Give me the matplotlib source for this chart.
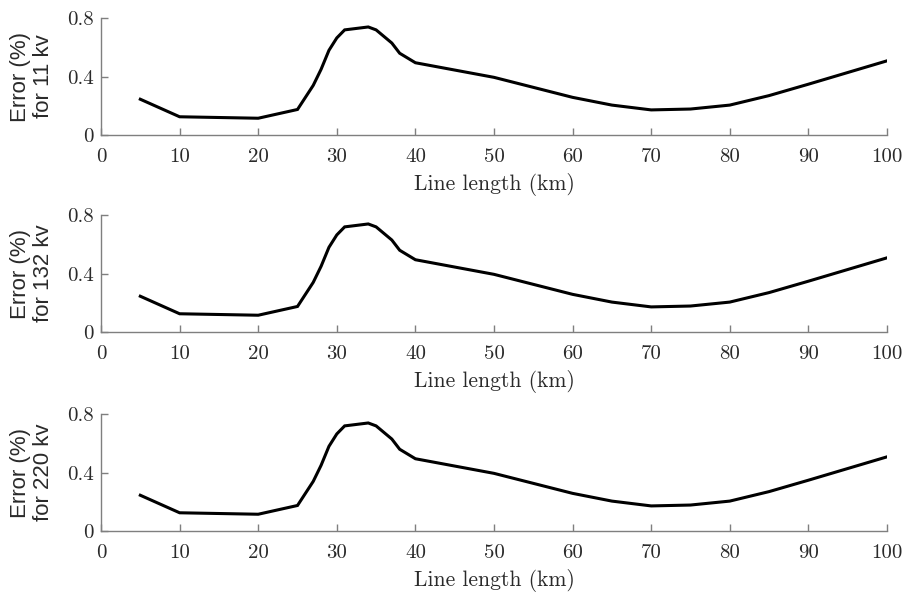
import numpy as np
import matplotlib
matplotlib.use('Agg')
import matplotlib.pyplot as plt

# Line length (km) and error values
length_km = [5, 10, 20, 25, 27, 28, 29, 30, 31, 34, 35, 37, 38, 40, 50, 60, 65, 70, 75, 80, 85, 90, 100]
error_pct = [0.245, 0.125, 0.115, 0.175, 0.34, 0.45, 0.58, 0.665, 0.72, 0.74, 0.72, 0.63, 0.56, 0.495,
             0.395, 0.258, 0.205, 0.172, 0.178, 0.205, 0.27, 0.348, 0.508]

voltages = ['11', '132', '220']
x_ticks = [0, 10, 20, 30, 40, 50, 60, 70, 80, 90, 100]
y_ticks = [0, 0.4, 0.8]
y_tick_labels = ['0', '0.4', '0.8']

plt.rcParams['axes.formatter.use_mathtext'] = True
serif = 'cmr10'
txt_color = '#2a2a2a'

fig = plt.figure(figsize=(9.06, 5.93), dpi=100)
bottoms = [0.7723, 0.4401, 0.1045]
for kv, b in zip(voltages, bottoms):
    ax = fig.add_axes([0.1115, b, 0.8675, 0.197])
    ax.plot(length_km, error_pct, color='black', lw=2.2, solid_joinstyle='miter')
    ax.set_xlim(0, 100)
    ax.set_ylim(0, 0.8)
    ax.set_xticks(x_ticks)
    ax.set_xticklabels([str(t) for t in x_ticks], fontfamily=serif, fontsize=15, color=txt_color)
    ax.set_yticks(y_ticks)
    ax.set_yticklabels(y_tick_labels, fontfamily=serif, fontsize=15, color=txt_color)
    for s in ['top', 'right']:
        ax.spines[s].set_visible(False)
    for s in ['left', 'bottom']:
        ax.spines[s].set_color('#7f7f7f')
        ax.spines[s].set_linewidth(1.0)
    ax.tick_params(direction='in', length=5, width=1, color='#7f7f7f')
    ax.tick_params(axis='x', pad=9.5)
    ax.tick_params(axis='y', pad=5)
    ax.set_xlabel('Line length (km)', fontfamily=serif, fontsize=15.5, labelpad=5, color=txt_color)
    ax.set_ylabel('Error (%%)\nfor %s kv' % kv, fontfamily='Liberation Sans', fontsize=16,
                  color=txt_color, linespacing=1.1)
    ax.yaxis.set_label_coords(-0.06, 0.5)

fig.savefig('out.png', dpi=100)
